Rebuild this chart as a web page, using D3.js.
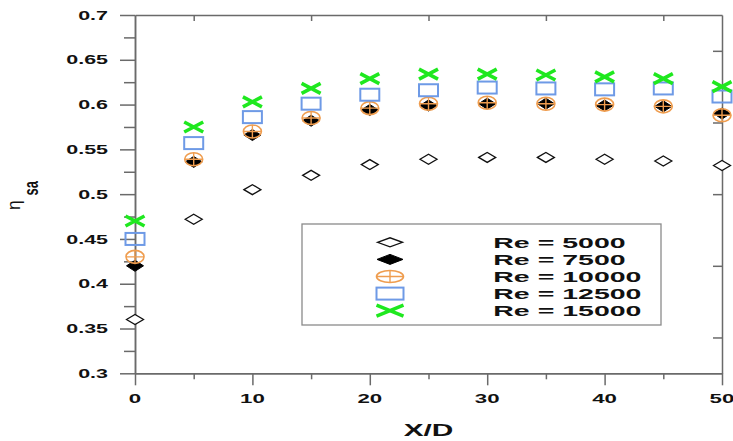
<!DOCTYPE html>
<html><head><meta charset="utf-8">
<script src="https://cdn.jsdelivr.net/npm/d3@7"></script>
<style>
html,body{margin:0;padding:0;background:#fff;}
text{font-family:"Liberation Sans",Arial,sans-serif;}
</style></head>
<body>
<script>
// ---- data ----
const xPos = [0, 5, 10, 15, 20, 25, 30, 35, 40, 45, 50];
const re5000  = [0.360, 0.472, 0.505, 0.521, 0.533, 0.539, 0.541, 0.541, 0.539, 0.537, 0.532];
const re7500  = [0.420, 0.536, 0.566, 0.582, 0.594, 0.599, 0.601, 0.601, 0.599, 0.598, 0.590];
const re10000 = [0.430, 0.539, 0.570, 0.585, 0.596, 0.601, 0.602, 0.601, 0.600, 0.598, 0.588];
const re12500 = [0.450, 0.557, 0.586, 0.601, 0.611, 0.616, 0.619, 0.618, 0.617, 0.618, 0.609];
const re15000 = [0.470, 0.575, 0.603, 0.618, 0.629, 0.634, 0.634, 0.633, 0.631, 0.629, 0.620];
const seriesNames = ["Re = 5000", "Re = 7500", "Re = 10000", "Re = 12500", "Re = 15000"];
const yTickVals = [0.3, 0.35, 0.4, 0.45, 0.5, 0.55, 0.6, 0.65, 0.7];
const yTickLabels = ["0.3", "0.35", "0.4", "0.45", "0.5", "0.55", "0.6", "0.65", "0.7"];
const yMinorVals = [0.325, 0.375, 0.425, 0.475, 0.525, 0.575, 0.625, 0.675];
const xTickVals = [0, 10, 20, 30, 40, 50];
const xTickLabels = ["0", "10", "20", "30", "40", "50"];
const xMinorVals = [5, 15, 25, 35, 45];
const rightTickVals = [0.34, 0.42, 0.50, 0.58, 0.66];
const xTitle = "X/D";

// ---- layout ----
const W = 733, H = 441;
const axisCol = "#6a6a6a";
const svg = d3.select("body").append("svg").attr("width", W).attr("height", H);
const x = d3.scaleLinear().domain([0, 50]).range([135, 722]);
const y = d3.scaleLinear().domain([0.3, 0.7]).range([373.3, 15]);

function styleAxis(g) {
  g.selectAll("path,line").attr("stroke", axisCol).attr("stroke-width", 1.5);
  g.selectAll("text").remove();
}
// left axis (major + minor)
svg.append("g").attr("transform", `translate(${x(0)},0)`)
  .call(d3.axisLeft(y).tickValues(yTickVals).tickSize(15).tickSizeOuter(0)).call(styleAxis);
svg.append("g").attr("transform", `translate(${x(0)},0)`)
  .call(d3.axisLeft(y).tickValues(yMinorVals).tickSize(11).tickSizeOuter(0)).call(styleAxis);
// bottom axis
svg.append("g").attr("transform", `translate(0,${y(0.3)})`)
  .call(d3.axisBottom(x).tickValues(xTickVals).tickSize(12).tickSizeOuter(0)).call(styleAxis);
svg.append("g").attr("transform", `translate(0,${y(0.3)})`)
  .call(d3.axisBottom(x).tickValues(xMinorVals).tickSize(6).tickSizeOuter(0)).call(styleAxis);
// top axis (inward ticks)
svg.append("g").attr("transform", `translate(0,${y(0.7)})`)
  .call(d3.axisBottom(x).tickValues(xMinorVals).tickSize(6).tickSizeOuter(0)).call(styleAxis);
// right axis (inward ticks)
svg.append("g").attr("transform", `translate(${x(50)},0)`)
  .call(d3.axisLeft(y).tickValues(rightTickVals).tickSize(9).tickSizeOuter(0)).call(styleAxis);

// tick labels (stretched horizontally like the reference)
const labFont = 13, stretch = 1.65;
svg.append("g").selectAll("g").data(yTickVals).join("g")
  .attr("transform", (d) => `translate(${x(0) - 27},${y(d) + 4.6}) scale(${stretch},1)`)
  .append("text").attr("text-anchor", "end").attr("font-weight", "bold")
  .attr("font-size", labFont).attr("fill", "#111")
  .text((d, i) => yTickLabels[i]);
svg.append("g").selectAll("g").data(xTickVals).join("g")
  .attr("transform", (d) => `translate(${x(d)},403.3) scale(${stretch},1)`)
  .append("text").attr("text-anchor", "middle").attr("font-weight", "bold")
  .attr("font-size", 13.5).attr("fill", "#111")
  .text((d, i) => xTickLabels[i]);

// axis titles
svg.append("g").attr("transform", `translate(${x(25)},435.5) scale(1.83,1)`)
  .append("text").attr("text-anchor", "middle").attr("font-weight", "bold")
  .attr("font-size", 16.3).attr("fill", "#111").text(xTitle);
svg.append("g").attr("transform", "translate(19.5,210) rotate(-90)")
  .append("text").attr("font-size", 17.5).attr("fill", "#111").text("η");
svg.append("g").attr("transform", "translate(37.7,195.5) scale(1.5,1) rotate(-90)")
  .append("text").attr("font-size", 13).attr("font-weight", "bold").attr("fill", "#111").text("sa");

// ---- marker drawers ----
const markers = [
  // open diamond
  (g, w, h) => g.append("path").attr("d", `M${-w},0L0,${-h}L${w},0L0,${h}Z`)
      .attr("fill", "#fff").attr("stroke", "#111").attr("stroke-width", 1.3),
  // filled diamond
  (g, w, h) => g.append("path").attr("d", `M${-w},0L0,${-h}L${w},0L0,${h}Z`)
      .attr("fill", "#000").attr("stroke", "#000").attr("stroke-width", 1),
  // circle with plus
  (g, w, h) => {
    const c = "#ef9d4f";
    g.append("ellipse").attr("rx", w).attr("ry", h).attr("fill", "none")
      .attr("stroke", c).attr("stroke-width", 1.6);
    g.append("path").attr("d", `M${-w},0H${w}M0,${-h}V${h}`)
      .attr("stroke", c).attr("stroke-width", 1.4);
  },
  // open square
  (g, w, h) => g.append("rect").attr("x", -w).attr("y", -h).attr("width", 2 * w).attr("height", 2 * h)
      .attr("fill", "none").attr("stroke", "#6e9ae6").attr("stroke-width", 2),
  // X
  (g, w, h) => g.append("path").attr("d", `M${-w},${-h}L${w},${h}M${-w},${h}L${w},${-h}`)
      .attr("stroke", "#1fe81f").attr("stroke-width", 3.6).attr("fill", "none")
];
const dataSizes = [[8.5, 5], [8.5, 5.5], [9, 6.5], [9.5, 6], [9.5, 5]];
const legendSizes = [[12.5, 4.5], [13, 5], [13.5, 6], [13.5, 6], [13.5, 5.5]];
const allSeries = [re5000, re7500, re10000, re12500, re15000];

allSeries.forEach((vals, si) => {
  svg.append("g").selectAll("g").data(vals).join("g")
    .attr("transform", (d, i) => `translate(${x(xPos[i])},${y(d)})`)
    .each(function () { markers[si](d3.select(this), dataSizes[si][0], dataSizes[si][1]); });
});

// ---- legend ----
const leg = svg.append("g");
leg.append("rect").attr("x", 302).attr("y", 224).attr("width", 359).attr("height", 101)
  .attr("fill", "#fff").attr("stroke", "#8a8a8a").attr("stroke-width", 1.3);
seriesNames.forEach((name, i) => {
  const cy = 242.3 + i * 17.1;
  const g = leg.append("g").attr("transform", `translate(390,${cy})`);
  markers[i](g, legendSizes[i][0], legendSizes[i][1]);
  leg.append("g").attr("transform", `translate(493.3,${cy + 5.2}) scale(1.9,1)`)
    .append("text").attr("font-weight", "bold").attr("font-size", 15).attr("fill", "#111").text(name);
});
</script>
</body></html>
